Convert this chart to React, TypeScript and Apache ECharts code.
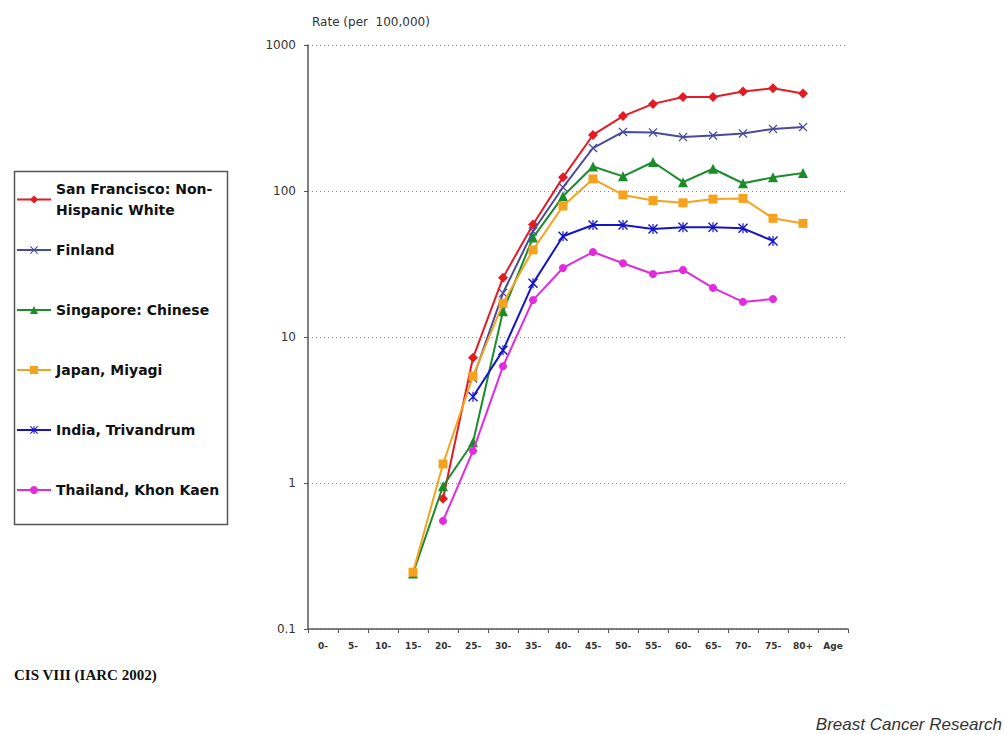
import React, { useEffect, useRef } from 'react';
import * as echarts from 'echarts';

const ageGroups = ['0-', '5-', '10-', '15-', '20-', '25-', '30-', '35-', '40-', '45-', '50-', '55-', '60-', '65-', '70-', '75-', '80+', 'Age'];

const seriesNames = [
  'San Francisco: Non-Hispanic White',
  'Finland',
  'Singapore: Chinese',
  'Japan, Miyagi',
  'India, Trivandrum',
  'Thailand, Khon Kaen',
];

const sanFrancisco = [null, null, null, null, 0.78, 7.2, 25.5, 59, 124, 242, 326, 395, 440, 440, 480, 505, 465, null];
const finland = [null, null, null, null, null, 5.2, 20, 53, 106, 197, 254, 252, 234, 240, 248, 266, 274, null];
const singapore = [null, null, null, 0.24, 0.95, 1.9, 15, 48, 92, 147, 126, 158, 115, 142, 113, 124, 133, null];
const japan = [null, null, null, 0.245, 1.35, 5.4, 17, 39.5, 79, 121, 94, 86, 83, 88, 89, 65, 60, null];
const india = [null, null, null, null, null, 3.9, 8.1, 23.3, 49, 58.5, 58.5, 55, 56.5, 56.5, 55.5, 45.5, null, null];
const thailand = [null, null, null, null, 0.55, 1.66, 6.3, 17.9, 29.7, 38.2, 32, 27, 28.8, 21.7, 17.4, 18.2, null, null];

const colors = ['#e31b23', '#4a4a9c', '#1a8c2a', '#f5a21e', '#1515c8', '#e22ade'];

const X_SYMBOL = 'path://M0,1 L1,0 L5,4 L9,0 L10,1 L6,5 L10,9 L9,10 L5,6 L1,10 L0,9 L4,5 Z';
const STAR_SYMBOL = 'path://M0,1 L1,0 L5,4 L9,0 L10,1 L6,5 L10,9 L9,10 L5,6 L1,10 L0,9 L4,5 Z M4.4,0 L5.6,0 L5.6,10 L4.4,10 Z';

export default function App() {
  const ref = useRef<HTMLDivElement>(null);

  useEffect(() => {
    document.body.style.margin = '0';
    const chart = echarts.init(ref.current!, null, { renderer: 'svg' });

    const datasets = [sanFrancisco, finland, singapore, japan, india, thailand];
    const symbols = ['diamond', X_SYMBOL, 'triangle', 'rect', STAR_SYMBOL, 'circle'];
    const sizes = [10, 9, 10, 9, 10, 8];

    const series = datasets.map((d, i) => ({
      name: seriesNames[i],
      type: 'line',
      data: d,
      symbol: symbols[i],
      symbolSize: sizes[i],
      showSymbol: true,
      connectNulls: false,
      lineStyle: { color: colors[i], width: 2 },
      itemStyle: { color: colors[i] },
      z: 2 + i,
    }));

    const legendFont = 'DejaVu Sans';

    const option: any = {
      animation: false,
      backgroundColor: '#ffffff',
      color: colors,
      grid: { left: 308, right: 156, top: 45, bottom: 105, containLabel: false },
      legend: [
        {
          data: [seriesNames[0]],
          orient: 'vertical',
          left: 16,
          top: 168,
          padding: 0,
          itemWidth: 34,
          itemHeight: 10,
          itemGap: 40,
          itemTextGap: 3,
          formatter: () => 'San Francisco: Non-\nHispanic White',
          textStyle: {
            fontFamily: legendFont,
            fontWeight: 'bold',
            fontSize: 14,
            color: '#111',
            lineHeight: 21,
            padding: [21, 0, 0, 0],
          },
        },
        {
          data: seriesNames.slice(1),
          orient: 'vertical',
          left: 16,
          top: 240,
          padding: 0,
          itemWidth: 34,
          itemHeight: 10,
          itemGap: 40,
          itemTextGap: 3,
          textStyle: {
            fontFamily: legendFont,
            fontWeight: 'bold',
            fontSize: 14,
            color: '#111',
            lineHeight: 20,
          },
        },
      ],
      xAxis: {
        type: 'category',
        data: ageGroups,
        boundaryGap: true,
        axisLine: { show: true, lineStyle: { color: '#555', width: 1.5 } },
        axisTick: { show: true, length: 4, interval: 0, lineStyle: { color: '#555' } },
        axisLabel: {
          interval: 0,
          margin: 12,
          fontFamily: 'DejaVu Sans',
          fontWeight: 'bold',
          fontSize: 9,
          color: '#333',
        },
        splitLine: { show: false },
      },
      yAxis: {
        type: 'log',
        logBase: 10,
        min: 0.1,
        max: 1000,
        name: 'Rate (per  100,000)',
        nameLocation: 'end',
        nameGap: 17,
        nameTextStyle: {
          fontFamily: 'DejaVu Sans',
          fontSize: 12,
          color: '#333',
          align: 'left',
          padding: [0, 0, 0, 4],
        },
        axisLine: { show: true, lineStyle: { color: '#555', width: 1.5 } },
        axisTick: { show: true, length: 4, lineStyle: { color: '#555' } },
        axisLabel: {
          margin: 12,
          fontFamily: 'DejaVu Sans',
          fontSize: 12,
          color: '#333',
          formatter: (v: number) => (v < 1 ? v.toFixed(1) : String(Math.round(v))),
        },
        splitLine: { show: true, lineStyle: { color: '#888', type: [1, 3], width: 1 } },
      },
      graphic: [
        {
          type: 'rect',
          left: 12,
          top: 169,
          shape: { width: 213, height: 353 },
          style: { fill: 'none', stroke: '#555', lineWidth: 1.5 },
          z: 0,
        },
        {
          type: 'text',
          left: 14,
          top: 667,
          style: {
            text: 'CIS VIII (IARC 2002)',
            fontFamily: 'Liberation Serif',
            fontWeight: 'bold',
            fontSize: 15,
            fill: '#111',
          },
        },
        {
          type: 'text',
          right: 2,
          top: 716,
          style: {
            text: 'Breast Cancer Research',
            fontFamily: 'Liberation Sans',
            fontStyle: 'italic',
            fontSize: 17,
            fill: '#333',
          },
        },
      ],
      series,
    };

    chart.setOption(option);
    return () => chart.dispose();
  }, []);

  return <div ref={ref} style={{ width: 1004, height: 734 }} />;
}
